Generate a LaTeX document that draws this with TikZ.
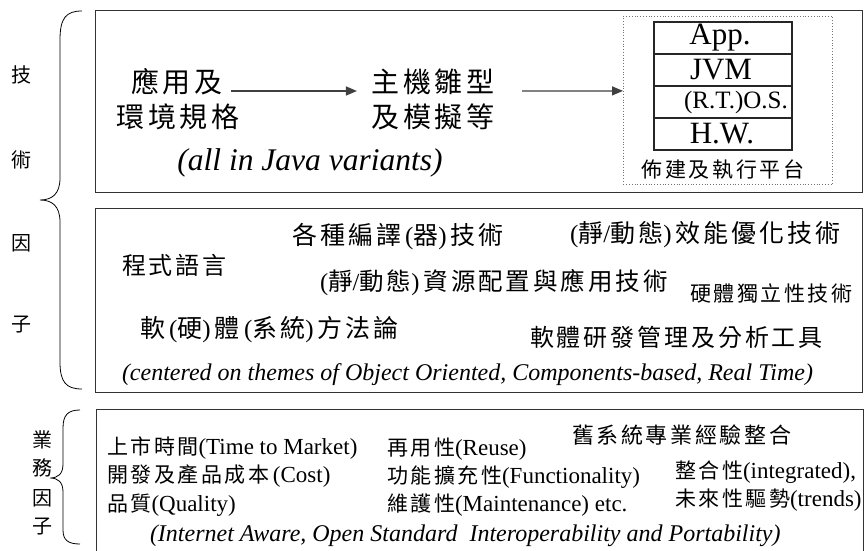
\documentclass[tikz,border=0pt]{standalone}
\usepackage{fontspec}
\setmainfont{Liberation Serif}
\newfontfamily\cjk[LetterSpace=12]{Noto Sans CJK TC}
\newfontfamily\cjks[LetterSpace=12,Scale=0.913]{Noto Sans CJK TC}
\usetikzlibrary{arrows.meta}
\newcommand\zh[1]{{\cjk #1}}
\newcommand\zhs[1]{{\cjks #1}}
\newcommand\fsz[1]{\fontsize{#1}{#1}\selectfont}
\begin{document}
\begin{tikzpicture}[x=1pt,y=-1pt,
  frame/.style={draw=black!80, line width=1.2pt, inner sep=0pt, anchor=north west},
  lbl/.style={inner sep=0pt, outer sep=0pt},
  biztxt/.style={lbl, anchor=west, font=\fsz{23}},
  arr/.style={draw=black!75, line width=1.3pt, -{Triangle[length=11pt,width=9pt]}},
  layer/.style={draw=black!85, line width=1.2pt, minimum width=138pt, minimum height=32pt, inner sep=0pt, font=\fsz{31}},
  brace/.style={draw=black, line width=0.8pt},
  side/.style={lbl, font=\fsz{20}}
]
\useasboundingbox[fill=white] (0,0) rectangle (867,551);
\clip (0,0) rectangle (867,551);

% frames
\node[frame, minimum width=767pt, minimum height=182pt] (tech) at (95,10) {};
\node[frame, minimum width=767pt, minimum height=184pt] (factor) at (95,208) {};
\node[frame, minimum width=767pt, minimum height=170pt] (biz) at (96,409) {};

% braces
\draw[brace] (82,11) .. controls (66,11) and (60,18) .. (60,40) -- (60,178)
  .. controls (60,194) and (52,200) .. (40,200)
  .. controls (52,200) and (60,206) .. (60,222) -- (60,362)
  .. controls (60,382) and (66,389) .. (82,389);
\draw[brace] (80,410) .. controls (68,410) and (63,415) .. (63,428) -- (63,464)
  .. controls (63,474) and (58,478) .. (50,478)
  .. controls (58,478) and (63,482) .. (63,492) -- (63,530)
  .. controls (63,540) and (68,544) .. (80,544);

% side labels
\node[side] (s1) at (22,75) {\zh{技}};
\node[side] (s2) at (22,160) {\zh{術}};
\node[side] (s3) at (22,243) {\zh{因}};
\node[side] (s4) at (22,325) {\zh{子}};
\node[side] (b1) at (42,440) {\zh{業}};
\node[side] (b2) at (42,468) {\zh{務}};
\node[side] (b3) at (42,498) {\zh{因}};
\node[side] (b4) at (42,527) {\zh{子}};

% technology box
\node[lbl, font=\fsz{28}] (spec1) at (177,82) {\zh{應用及}};
\node[lbl, font=\fsz{28}] (spec2) at (178,117) {\zh{環境規格}};
\node[lbl, font=\fsz{28}] (host1) at (433,82) {\zh{主機雛型}};
\node[lbl, font=\fsz{28}] (host2) at (433,117) {\zh{及模擬等}};
\node[lbl, font=\fsz{31.5}\itshape] (java) at (310,163) {(all in Java variants)};

\node[draw=black!55, dotted, line width=0.8pt, minimum width=209pt, minimum height=168pt, inner sep=0pt, anchor=north west] (plat) at (623,16) {};
\node[layer] (app) at (723,38) {\hspace*{-6pt}App.};
\node[layer] (jvm) at (723,70) {\hspace*{-4pt}JVM};
\node[layer] (os) at (723,102) {\hspace*{26pt}\fsz{25}(R.T.)O.S.};
\node[layer] (hw) at (723,134) {\hspace*{-2pt}H.W.};
\node[lbl, font=\fsz{21}] (platlbl) at (723,170) {\zh{佈建及執行平台}};

\draw[arr] ([xshift=9pt,yshift=-9pt]spec1.east) -- ([xshift=-15pt,yshift=-9pt]host1.west);
\draw[arr] ([xshift=28pt,yshift=-9pt]host1.east) -- ([yshift=9.5pt]plat.west);

% technology factors
\node[lbl, anchor=west, font=\fsz{25}] (comp) at (292,237) {\zh{各種編譯}\,(\zh{器})\,\zh{技術}};
\node[lbl, anchor=west, font=\fsz{24}] (lang) at (122,265) {\zh{程式語言}};
\node[lbl, anchor=west, font=\fsz{24.5}] (res) at (320,283) {(\zh{靜}/\zh{動態})\,\zh{資源配置與應用技術}};
\node[lbl, anchor=west, font=\fsz{25}] (perf) at (570,235) {(\zh{靜}/\zh{動態})\,\zh{效能優化技術}};
\node[lbl, anchor=west, font=\fsz{21}] (hwi) at (690,293) {\zh{硬體獨立性技術}};
\node[lbl, anchor=west, font=\fsz{25}] (meth) at (140,330) {\zh{軟}\,(\zh{硬})\,\zh{體}\,(\zh{系統})\,\zh{方法論}};
\node[lbl, anchor=west, font=\fsz{24}] (tools) at (530,337) {\zh{軟體研發管理及分析工具}};
\node[lbl, anchor=west, font=\fsz{24}\itshape] (oo) at (122,375) {(centered on themes of Object Oriented, Components-based, Real Time)};

% business factors
\node[biztxt] (ttm) at (107,448) {\zhs{上市時間}(Time to Market)};
\node[biztxt] (cost) at (107,476) {\zhs{開發及產品成本}\,(Cost)};
\node[biztxt] (qual) at (107,505) {\zhs{品質}(Quality)};
\node[biztxt] (reuse) at (387,449) {\zhs{再用性}(Reuse)};
\node[biztxt] (func) at (387,477) {\zhs{功能擴充性}(Functionality)};
\node[biztxt] (maint) at (387,505) {\zhs{維護性}(Maintenance) etc.};
\node[biztxt] (legacy) at (572,435) {\zh{\fsz{22}舊系統專業經驗整合}};
\node[biztxt] (integ) at (675,472) {\zhs{整合性}(integrated),};
\node[biztxt] (trend) at (675,500) {\zhs{未來性驅勢}(trends)};
\node[biztxt, font=\fsz{24}\itshape] (inet) at (150,536) {(Internet Aware, Open Standard\ \ Interoperability and Portability)};
\end{tikzpicture}
\end{document}
